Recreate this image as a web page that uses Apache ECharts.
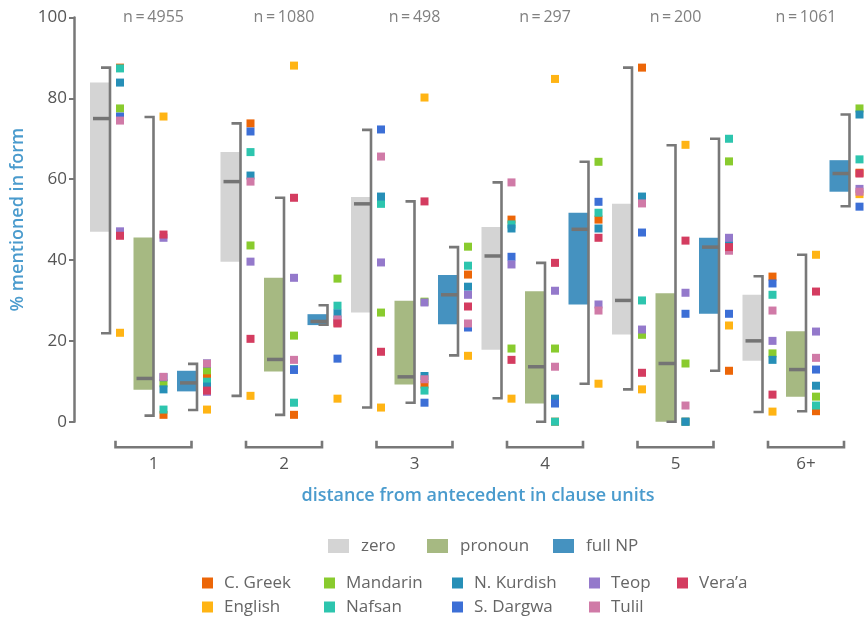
<!DOCTYPE html>
<html>
<head>
<meta charset="utf-8">
<script src="https://cdn.jsdelivr.net/npm/echarts@6/dist/echarts.min.js"></script>
<style>html,body{margin:0;padding:0;background:#fff}#c{width:864px;height:617px}</style>
</head>
<body>
<div id="c"></div>
<script>
// ---------- DATA ----------
const groupLabels = ['1', '2', '3', '4', '5', '6+'];
const groupN = ['n\u2009=\u20094955', 'n\u2009=\u20091080', 'n\u2009=\u2009498', 'n\u2009=\u2009297', 'n\u2009=\u2009200', 'n\u2009=\u20091061'];
const formTypes = ['zero', 'pronoun', 'full NP'];
const yTicks = [0, 20, 40, 60, 80, 100];

// per form type, one entry per distance group (1..6+)
const boxLow = {
  'zero':    [47.0, 39.6, 27.0, 17.8, 21.6, 15.1],
  'pronoun': [7.9, 12.4, 9.2, 4.5, 0.0, 6.2],
  'full NP': [7.5, 23.9, 24.1, 29.0, 26.7, 56.9]
};
const boxHigh = {
  'zero':    [83.9, 66.7, 55.6, 48.2, 53.9, 31.4],
  'pronoun': [45.6, 35.6, 29.9, 32.3, 31.8, 22.4],
  'full NP': [12.6, 26.6, 36.3, 51.7, 45.5, 64.7]
};
const medians = {
  'zero':    [75.0, 59.4, 53.9, 41.0, 30.0, 20.0],
  'pronoun': [10.7, 15.4, 11.1, 13.6, 14.4, 12.9],
  'full NP': [9.6, 24.8, 31.4, 47.6, 43.2, 61.4]
};
const rangeLow = {
  'zero':    [21.9, 6.4, 3.5, 5.8, 8.0, 2.4],
  'pronoun': [1.5, 1.7, 4.7, 0.0, 0.0, 2.6],
  'full NP': [2.9, 24.0, 16.4, 9.4, 12.6, 53.3]
};
const rangeHigh = {
  'zero':    [87.6, 73.8, 72.2, 59.2, 87.6, 36.0],
  'pronoun': [75.4, 55.4, 54.5, 39.3, 68.4, 41.3],
  'full NP': [14.3, 28.8, 43.2, 64.3, 70.0, 76.0]
};

// per language: 18 values, order = group1 [zero, pronoun, full NP], group2 [...], ...
const languages = ['C. Greek', 'English', 'Mandarin', 'Nafsan', 'N. Kurdish', 'S. Dargwa', 'Teop', 'Tulil', "Vera\u2019a"];
const cGreek   = [87.6, 1.7, 11.1,  73.8, 1.7, 24.5,  54.5, 9.2, 36.4,  50.0, 0.0, 50.0,  87.6, 0.0, 12.6,  35.9, 2.6, 61.6];
const english  = [22.0, 75.5, 3.0,  6.4, 88.1, 5.7,   3.5, 80.2, 16.3,  5.7, 84.8, 9.4,   8.0, 68.5, 23.8,  2.5, 41.3, 56.3];
const mandarin = [77.5, 9.5, 12.7,  43.6, 21.3, 35.4, 27.0, 29.7, 43.3, 18.1, 18.1, 64.3, 21.5, 14.4, 64.4, 16.9, 6.2, 77.5];
const nafsan   = [87.4, 3.0, 9.9,   66.7, 4.7, 28.7,  53.9, 7.7, 38.6,  48.8, 0.0, 51.7,  30.0, 0.0, 70.0,  31.4, 4.0, 64.9];
const nKurdish = [83.9, 8.0, 8.7,   60.9, 13.0, 26.8, 55.7, 11.3, 33.4, 47.8, 5.7, 47.8,  55.7, 0.0, 44.6,  15.3, 8.9, 76.0];
const sDargwa  = [75.5, 11.0, 14.4, 71.8, 12.8, 15.6, 72.3, 4.7, 23.3,  40.8, 4.5, 54.4,  46.8, 26.7, 26.7, 34.2, 12.9, 53.2];
const teop     = [47.1, 45.5, 7.4,  39.6, 35.6, 25.0, 39.4, 29.5, 31.4, 38.9, 32.4, 29.0, 22.8, 31.9, 45.5, 20.0, 22.3, 57.6];
const tulil    = [74.5, 11.1, 14.4, 59.4, 15.3, 25.3, 65.6, 10.5, 24.3, 59.2, 13.6, 27.5, 54.0, 4.0, 42.3,  27.5, 15.8, 56.9];
const veraa    = [46.0, 46.3, 7.7,  20.5, 55.4, 24.3, 17.3, 54.5, 28.5, 15.3, 39.3, 45.5, 12.1, 44.8, 43.2, 6.7, 32.2, 61.4];
const langValues = [cGreek, english, mandarin, nafsan, nKurdish, sDargwa, teop, tulil, veraa];

// ---------- STYLE ----------
const FONT = '"Open Sans", "DejaVu Sans", sans-serif';
const boxColors = { 'zero': '#d4d4d4', 'pronoun': '#a6b982', 'full NP': '#4592c0' };
const langColors = ['#ec6608', '#ffb414', '#89cb2e', '#2dc5ae', '#268fb7', '#3c6fd6', '#9479cb', '#d07aa7', '#d43c60'];
const BRACKET = '#787878';
const TITLE_BLUE = '#4a9bcd';

const slotOf = (g, t) => g * 3 + t;

function boxRender(params, api) {
  const x = api.value(0);
  const pHi = api.coord([x, api.value(2)]);
  const pLo = api.coord([x, api.value(1)]);
  const pMed = api.coord([x, api.value(3)]);
  const pRlo = api.coord([x, api.value(4)]);
  const pRhi = api.coord([x, api.value(5)]);
  const cx = pHi[0];
  return {
    type: 'group',
    children: [
      { type: 'rect', shape: { x: cx - 20, y: pHi[1], width: 20, height: pLo[1] - pHi[1] },
        style: { fill: api.visual('color') } },
      { type: 'polyline', shape: { points: [[cx - 9, pRhi[1]], [cx, pRhi[1]], [cx, pRlo[1]], [cx - 9, pRlo[1]]] },
        style: { stroke: BRACKET, lineWidth: 2.6, fill: null } },
      { type: 'line', shape: { x1: cx - 17, y1: pMed[1], x2: cx, y2: pMed[1] },
        style: { stroke: '#747474', lineWidth: 3.5 } }
    ]
  };
}

const series = [];
formTypes.forEach((ft, t) => {
  series.push({
    name: ft,
    type: 'custom',
    renderItem: boxRender,
    itemStyle: { color: boxColors[ft] },
    z: 2,
    silent: true,
    clip: false,
    data: groupLabels.map((_, g) => [slotOf(g, t), boxLow[ft][g], boxHigh[ft][g], medians[ft][g], rangeLow[ft][g], rangeHigh[ft][g]])
  });
});

languages.forEach((lang, li) => {
  series.push({
    name: lang,
    type: 'scatter',
    symbol: 'rect',
    symbolSize: 8,
    symbolOffset: [10, 0],
    itemStyle: { color: langColors[li], opacity: 1 },
    z: 5,
    silent: true,
    clip: false,
    data: langValues[li].map((v, j) => [j, v])
  });
});

// group decorations: n labels on top, brackets + labels under the axis
series.push({
  name: 'groups',
  type: 'custom',
  silent: true,
  clip: false,
  z: 3,
  renderItem: function (params, api) {
    const g = params.dataIndex;
    const x = api.value(0);
    const top = api.coord([x, 100]);
    const bot = api.coord([x, 0]);
    const cx = top[0];
    return {
      type: 'group',
      children: [
        { type: 'text', x: cx, y: top[1],
          style: { text: groupN[g], fill: '#808080', font: '16px ' + FONT, textAlign: 'center', textVerticalAlign: 'middle' } },
        { type: 'polyline', shape: { points: [[cx - 38, bot[1] + 19], [cx - 38, bot[1] + 25.5], [cx + 38, bot[1] + 25.5], [cx + 38, bot[1] + 19]] },
          style: { stroke: BRACKET, lineWidth: 2.6, fill: null } },
        { type: 'text', x: cx, y: bot[1] + 42,
          style: { text: groupLabels[g], fill: '#555', font: '17px ' + FONT, textAlign: 'center', textVerticalAlign: 'middle' } }
      ]
    };
  },
  data: groupLabels.map((_, g) => [slotOf(g, 1), 50])
});

// legends
const legends = [];
const boxLegendLeft = [328, 427, 553];
formTypes.forEach((ft, i) => {
  legends.push({
    data: [ft], left: boxLegendLeft[i], top: 536, padding: 0,
    icon: 'rect', itemWidth: 21, itemHeight: 14, selectedMode: false,
    textStyle: { fontFamily: FONT, fontSize: 17, color: '#666', padding: [0, 0, 0, 7], lineHeight: 20 }
  });
});
const langLegendLeft = [202, 202, 324, 324, 452, 452, 589, 589, 677];
const langLegendTop = [573, 597, 573, 597, 573, 597, 573, 597, 573];
languages.forEach((lang, i) => {
  legends.push({
    data: [lang], left: langLegendLeft[i], top: langLegendTop[i], padding: 0,
    icon: 'rect', itemWidth: 11, itemHeight: 11, selectedMode: false,
    textStyle: { fontFamily: FONT, fontSize: 17, color: '#666', padding: [0, 0, 0, 6], lineHeight: 20 }
  });
});

const chart = echarts.init(document.getElementById('c'), null, { renderer: 'canvas' });
chart.setOption({
  animation: false,
  backgroundColor: '#fff',
  textStyle: { fontFamily: FONT },
  // slot -1 sits at the grid's left edge, slot 17 at its right edge
  grid: { left: 66.5, right: 14.5, top: 17.5, bottom: 195.3, containLabel: false, outerBoundsMode: 'none' },
  xAxis: { type: 'value', min: -1, max: 17, show: false },
  yAxis: {
    type: 'value', min: 0, max: 100, interval: 20,
    offset: -7.5,
    name: '% mentioned in form', nameLocation: 'middle', nameGap: 47,
    nameTextStyle: { fontFamily: FONT, fontSize: 18, fontWeight: 600, color: TITLE_BLUE },
    axisLine: { show: true, onZero: false, lineStyle: { color: '#777', width: 2.5 } },
    axisTick: { show: true, length: 5, lineStyle: { color: '#777', width: 2 } },
    axisLabel: { fontFamily: FONT, fontSize: 17, color: '#555', margin: 7,
      formatter: v => (yTicks.indexOf(v) >= 0 ? String(v) : '') },
    splitLine: { show: false }
  },
  legend: legends,
  graphic: [{
    type: 'text', x: 478, y: 496,
    style: { text: 'distance from antecedent in clause units', fill: TITLE_BLUE,
      font: '600 18px ' + FONT, textAlign: 'center', textVerticalAlign: 'middle' }
  }],
  series: series
});
</script>
</body>
</html>
